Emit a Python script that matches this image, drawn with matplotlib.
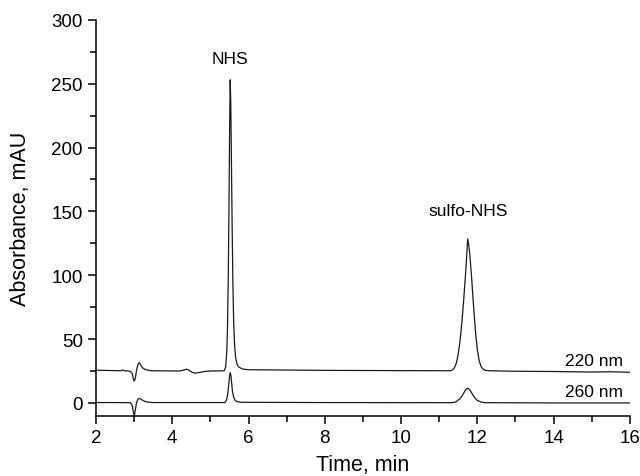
import matplotlib.pyplot as plt
from matplotlib.ticker import MultipleLocator

plt.rcParams['font.family'] = ['Liberation Sans', 'DejaVu Sans']

# 220 nm trace (time in min, absorbance in mAU)
t_220 = [2.0, 2.5, 2.65, 2.7, 2.75, 2.9, 2.95, 2.98, 3.0, 3.03, 3.06, 3.1, 3.13,
         3.17, 3.22, 3.3, 3.45, 3.8, 4.2, 4.3, 4.38, 4.45, 4.52, 4.6, 4.7, 4.85,
         5.0, 5.3, 5.36, 5.40, 5.43, 5.45, 5.47, 5.49, 5.505, 5.52, 5.535, 5.55,
         5.57, 5.59, 5.61, 5.63, 5.66, 5.70, 5.75, 5.85, 6.0, 8.0, 10.0, 11.3,
         11.35, 11.4, 11.45, 11.5, 11.55, 11.6, 11.65, 11.7, 11.725, 11.75, 11.775,
         11.8, 11.85, 11.9, 11.95, 12.0, 12.05, 12.1, 12.15, 12.2, 12.3, 13.0,
         14.0, 15.0, 15.5, 16.0]
a_220 = [25.6, 25.3, 25.2, 25.8, 25.2, 24.8, 23.0, 19.0, 17.0, 19.0, 25.0, 30.0, 31.5,
         30.0, 27.5, 26.0, 25.2, 25.1, 25.0, 25.8, 26.4, 25.5, 24.0, 23.3, 23.8, 24.6,
         25.0, 25.1, 25.2, 28.0, 40.0, 60.0, 100.0, 160.0, 215.0, 253.0, 235.0, 195.0,
         140.0, 95.0, 65.0, 48.0, 36.0, 30.0, 28.0, 26.5, 26.0, 25.5, 25.3, 25.2,
         25.8, 27.5, 31.0, 38.0, 49.0, 64.0, 83.0, 104.0, 116.0, 128.5, 124.0,
         118.0, 99.0, 77.0, 57.0, 42.0, 33.0, 28.5, 26.5, 25.6, 25.2, 24.8,
         24.6, 24.2, 24.4, 24.0]

# 260 nm trace
t_260 = [2.0, 2.5, 2.9, 2.95, 2.98, 3.0, 3.03, 3.06, 3.1, 3.15, 3.2, 3.3, 3.4,
         3.5, 4.5, 5.38, 5.42, 5.45, 5.48, 5.50, 5.52, 5.54, 5.56, 5.58, 5.61,
         5.65, 5.7, 5.8, 8.0, 11.35, 11.45, 11.55, 11.6, 11.65, 11.7, 11.75,
         11.8, 11.85, 11.9, 11.95, 12.0, 12.1, 12.2, 14.0, 16.0]
a_260 = [0.3, 0.3, 0.2, -2.0, -7.0, -10.5, -6.0, 0.0, 3.0, 3.5, 2.5, 1.0, 0.5,
         0.3, 0.3, 0.3, 2.0, 6.0, 14.0, 20.0, 23.8, 21.0, 15.0, 9.0, 4.5,
         2.0, 1.0, 0.5, 0.3, 0.2, 1.0, 3.5, 5.5, 8.0, 10.5, 11.5,
         10.5, 8.0, 5.5, 3.5, 2.0, 0.7, 0.2, 0.0, 0.0]

peak_labels = ['NHS', 'sulfo-NHS']
peak_label_pos = [(5.52, 270), (11.75, 151)]
trace_labels = ['220 nm', '260 nm']
trace_label_pos = [(15.82, 33), (15.82, 8.6)]

fig = plt.figure(figsize=(6.4, 4.77), dpi=100)
ax = fig.add_axes([0.15, 0.1264, 0.834, 0.830])

ax.plot(t_220, a_220, color='#1a1a1a', lw=0.9)
ax.plot(t_260, a_260, color='#1a1a1a', lw=0.9)

for txt, (x, y) in zip(peak_labels, peak_label_pos):
    ax.text(x, y, txt, ha='center', va='center', fontsize=12.5)
for txt, (x, y) in zip(trace_labels, trace_label_pos):
    ax.text(x, y, txt, ha='right', va='center', fontsize=12.5)

ax.set_xlim(2, 16)
ax.set_ylim(-10, 300)
ax.xaxis.set_major_locator(MultipleLocator(2))
ax.xaxis.set_minor_locator(MultipleLocator(1))
ax.yaxis.set_major_locator(MultipleLocator(50))
ax.yaxis.set_minor_locator(MultipleLocator(25))
ax.tick_params(which='major', direction='out', length=6, width=1.1, labelsize=13.5)
ax.tick_params(which='minor', direction='out', length=4, width=1.1)

for s in ['top', 'right']:
    ax.spines[s].set_visible(False)
for s in ['left', 'bottom']:
    ax.spines[s].set_linewidth(1.1)

ax.set_xlabel('Time, min', fontsize=15.5, va='center')
ax.set_ylabel('Absorbance, mAU', fontsize=15.5, va='center')
ax.xaxis.set_label_coords(0.5, -0.122)
ax.yaxis.set_label_coords(-0.142, 0.5)

fig.savefig('out.png', dpi=100)
